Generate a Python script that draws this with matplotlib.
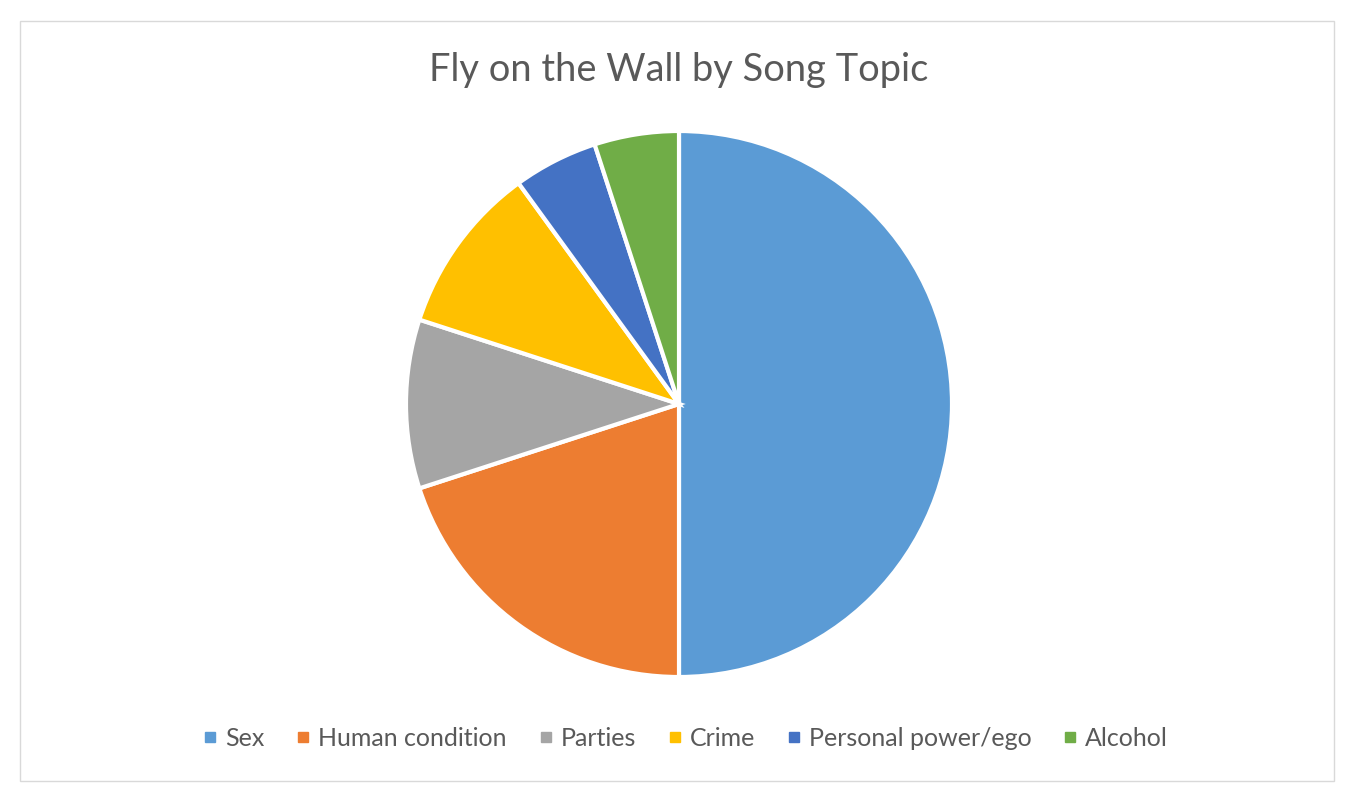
import matplotlib
matplotlib.use('Agg')
import matplotlib.pyplot as plt
from matplotlib.patches import Rectangle
from matplotlib.lines import Line2D

# Chart data.
topics = ["Sex", "Human condition", "Parties", "Crime", "Personal power/ego", "Alcohol"]
songs = [10, 4, 2, 2, 1, 1]
colors = ["#5B9BD5", "#ED7D31", "#A5A5A5", "#FFC000", "#4472C4", "#70AD47"]

plt.rcParams['font.family'] = ['Lato', 'DejaVu Sans']

W, H = 1354, 802
fig = plt.figure(figsize=(W / 100, H / 100), dpi=100)
fig.patch.set_facecolor('white')

# Chart area border.
fig.add_artist(Rectangle((20 / W, 21 / H), 1314 / W, 760 / H, transform=fig.transFigure,
                         fill=False, edgecolor='#D9D9D9', linewidth=1))

fig.text(679 / W, 1 - 70 / H, "Fly on the Wall by Song Topic", ha='center', va='center',
         fontsize=27.4, color='#595959')

# Pie axes sized so radius = 273 px around (679, 404).
cx, cy, r = 679, 404, 273
ax = fig.add_axes([(cx - r) / W, (H - cy - r) / H, 2 * r / W, 2 * r / H])
wedges, _ = ax.pie(songs, colors=colors, startangle=90, counterclock=False, radius=1,
                   wedgeprops=dict(edgecolor='white', linewidth=3))
for w in wedges:
    w.set_clip_on(False)
ax.set_xlim(-1, 1)
ax.set_ylim(-1, 1)
ax.set_aspect('equal')
ax.axis('off')

handles = [Line2D([], [], marker='s', linestyle='none', markersize=7,
                  markerfacecolor=c, markeredgecolor=c) for c in colors]
fig.legend(handles, topics, loc='center', bbox_to_anchor=(683 / W, 1 - 738 / H), ncol=6,
           frameon=False, fontsize=18, labelcolor='#595959', handletextpad=0.1,
           columnspacing=1.05, handlelength=1.0)

fig.savefig('out.png', dpi=100)
